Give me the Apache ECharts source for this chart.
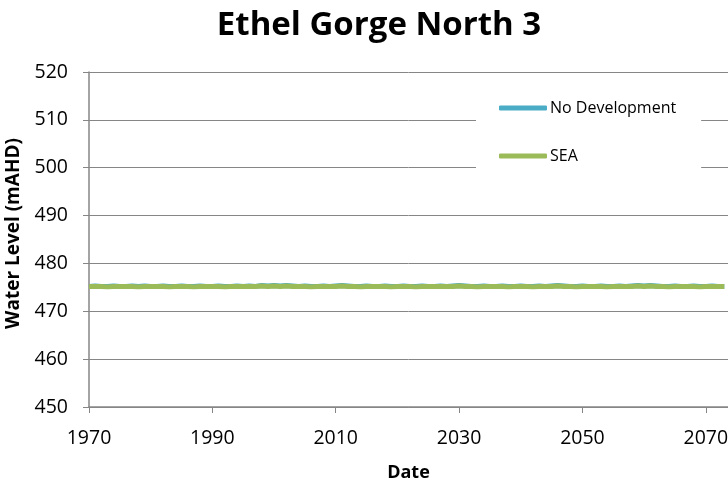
<!DOCTYPE html>
<html><head><meta charset="utf-8">
<script src="https://cdn.jsdelivr.net/npm/echarts@6/dist/echarts.min.js"></script>
<style>html,body{margin:0;padding:0;background:#fff}#c{width:728px;height:483px}</style>
</head><body><div id="c"></div>
<script>
const title = "Ethel Gorge North 3";
const yTicks = [450, 460, 470, 480, 490, 500, 510, 520];
const xTicks = [1970, 1990, 2010, 2030, 2050, 2070];
const years = [];
for (let y = 1970; y <= 2073; y++) years.push(y);
const noDevelopment = [
475.2,475.3,475.2,475.2,475.3,475.2,475.2,475.3,475.2,475.3,
475.2,475.2,475.3,475.2,475.2,475.3,475.2,475.2,475.3,475.2,
475.2,475.3,475.2,475.2,475.3,475.2,475.3,475.2,475.4,475.3,
475.4,475.3,475.4,475.3,475.2,475.3,475.2,475.2,475.3,475.2,
475.3,475.4,475.3,475.2,475.2,475.3,475.2,475.2,475.3,475.2,
475.2,475.3,475.2,475.2,475.3,475.2,475.2,475.3,475.2,475.3,
475.4,475.3,475.2,475.2,475.3,475.2,475.2,475.3,475.2,475.2,
475.3,475.2,475.2,475.3,475.2,475.3,475.4,475.3,475.2,475.2,
475.3,475.2,475.2,475.3,475.2,475.2,475.3,475.2,475.3,475.4,
475.3,475.4,475.3,475.2,475.2,475.3,475.2,475.2,475.3,475.2,
475.2,475.3,475.2,475.2
];
const sea = [
475.2,475.2,475.2,475.1,475.2,475.2,475.2,475.2,475.1,475.2,
475.2,475.2,475.2,475.1,475.2,475.2,475.2,475.1,475.2,475.2,
475.2,475.2,475.1,475.2,475.2,475.2,475.2,475.2,475.3,475.2,
475.3,475.2,475.3,475.2,475.2,475.2,475.1,475.2,475.2,475.2,
475.2,475.3,475.2,475.2,475.1,475.2,475.2,475.2,475.2,475.1,
475.2,475.2,475.2,475.1,475.2,475.2,475.2,475.2,475.2,475.2,
475.3,475.2,475.2,475.1,475.2,475.2,475.2,475.2,475.1,475.2,
475.2,475.2,475.1,475.2,475.2,475.2,475.3,475.2,475.2,475.1,
475.2,475.2,475.2,475.2,475.1,475.2,475.2,475.2,475.2,475.3,
475.2,475.3,475.2,475.2,475.1,475.2,475.2,475.2,475.2,475.1,
475.2,475.2,475.2,475.2
];
const chart = echarts.init(document.getElementById('c'));
const axisCol = '#868686';
chart.setOption({
  animation: false,
  backgroundColor: '#fff',
  title: {
    text: title, left: 374, top: 4, textAlign: 'center',
    textStyle: { fontFamily: 'Open Sans', fontWeight: 'bold', fontSize: 33, color: '#000' }
  },
  legend: {
    left: 476, top: 88, orient: 'vertical',
    backgroundColor: '#fff',
    padding: [12, 25, 12, 23],
    itemGap: 32, itemWidth: 48, itemHeight: 5,
    icon: 'roundRect',
    textStyle: { fontFamily: 'Open Sans', fontSize: 16, color: '#000', padding: [0, 0, 0, -2] },
    data: ['No Development', 'SEA']
  },
  grid: { left: 89, right: 0, top: 72, bottom: 76, containLabel: false, outerBoundsMode: 'none' },
  xAxis: {
    type: 'value', min: 1970, max: 2073.6, interval: 20,
    name: 'Date', nameLocation: 'middle', nameGap: 57,
    nameTextStyle: { fontFamily: 'Open Sans', fontWeight: 'bold', fontSize: 18, color: '#000' },
    axisLine: { lineStyle: { color: axisCol, width: 1.5 } },
    axisTick: { length: 6, lineStyle: { color: axisCol } },
    axisLabel: { margin: 21, fontFamily: 'Open Sans', fontSize: 19.5, color: '#000', formatter: v => String(v) },
    splitLine: { show: false }
  },
  yAxis: {
    type: 'value', min: 450, max: 520, interval: 10,
    name: 'Water Level (mAHD)', nameLocation: 'middle', nameGap: 66, nameRotate: 90,
    nameTextStyle: { fontFamily: 'Open Sans', fontWeight: 'bold', fontSize: 19, color: '#000', padding: [0, 0, 0, 12] },
    axisLine: { show: true, lineStyle: { color: axisCol, width: 1.5 } },
    axisTick: { show: true, length: 6, lineStyle: { color: axisCol } },
    axisLabel: { margin: 21, fontFamily: 'Open Sans', fontSize: 19.5, color: '#000' },
    splitLine: { show: true, lineStyle: { color: axisCol, width: 1 } }
  },
  series: [
    { name: 'No Development', type: 'line', showSymbol: false, z: 2,
      color: '#4BACC6', lineStyle: { width: 5, color: '#4BACC6' },
      data: years.map((y, i) => [y, noDevelopment[i]]) },
    { name: 'SEA', type: 'line', showSymbol: false, z: 3,
      color: '#9BBB59', lineStyle: { width: 5, color: '#9BBB59' },
      data: years.map((y, i) => [y, sea[i]]) }
  ]
});
</script></body></html>
